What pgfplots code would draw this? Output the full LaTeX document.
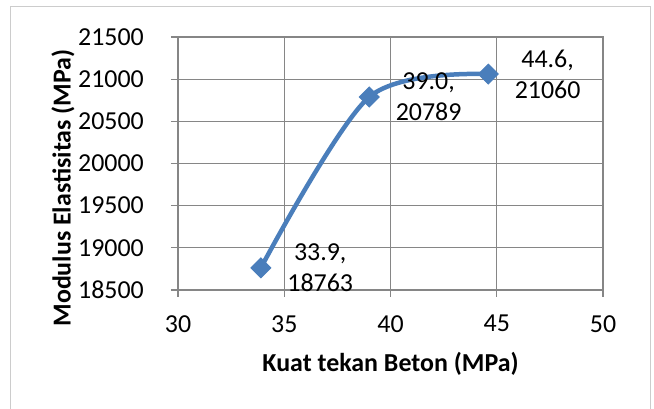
\documentclass[border=0pt]{standalone}
\usepackage{fontspec}
\setmainfont{Carlito}
\usepackage{pgfplots}
\pgfplotsset{compat=1.18}
\definecolor{serblue}{HTML}{4A7EBB}
\definecolor{gridgray}{HTML}{868686}
\begin{document}
\begin{tikzpicture}
\begin{axis}[
  at={(178bp,119bp)}, anchor=south west,
  scale only axis, width=425bp, height=253bp,
  xmin=30, xmax=50, ymin=18500, ymax=21500,
  xtick={30,35,...,50}, ytick={18500,19000,...,21500},
  grid=major, major grid style={gridgray, line width=1.3bp},
  axis line style={gridgray, line width=1.3bp},
  tick style={gridgray, line width=1.3bp},
  tick align=outside, major tick length=7bp,
  xtick pos=bottom, ytick pos=left,
  scaled ticks=false,
  /pgf/number format/assume math mode=true,
  /pgf/number format/1000 sep={},
  tick label style={font=\fontsize{26}{30}\selectfont, inner sep=0pt, black},
  yticklabel style={xshift=-27bp},
  xticklabel style={yshift=-18bp},
  xlabel={Kuat tekan Beton (MPa)},
  ylabel={Modulus Elastisitas (MPa)},
  label style={font=\bfseries\fontsize{26}{30}\selectfont},
  xlabel style={at={(axis description cs:0.5,-0.29)}, anchor=center},
  ylabel style={at={(axis description cs:-0.2706,0.403)}, anchor=center},
]
\addplot[serblue, line width=4.5bp, smooth, mark=square*, mark size=7bp,
  mark options={rotate=45, solid, fill=serblue, line width=1bp},
  nodes near coords={\pgfmathprintnumber[fixed,fixed zerofill,precision=1]{\pgfkeysvalueof{/data point/x}},\\\pgfmathprintnumber[fixed,precision=0]{\pgfkeysvalueof{/data point/y}}},
  nodes near coords style={anchor=west, xshift=26bp, inner sep=0pt, align=center, black, font=\fontsize{26}{31}\selectfont}
] coordinates {(33.9,18763) (39.0,20789) (44.6,21060)};
\end{axis}
\draw[color=gray!40, line width=1bp] (10bp,-20bp) rectangle (650bp,402bp);
\pgfresetboundingbox
\path (0,0) rectangle (654bp,409bp);
\end{tikzpicture}
\end{document}
